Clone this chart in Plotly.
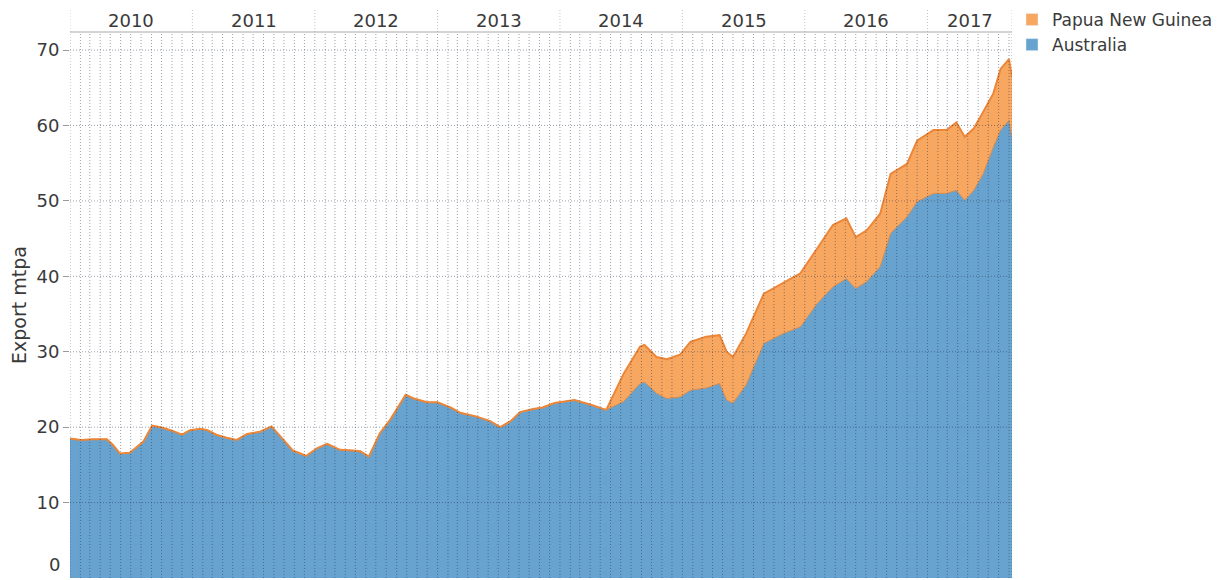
import plotly.graph_objects as go
import pandas as pd

# ---------------- data ----------------
dates = [
    "2010-01-01", "2010-02-02", "2010-03-11", "2010-04-21", "2010-05-10", "2010-05-30",
    "2010-06-28", "2010-07-19", "2010-08-08", "2010-09-03", "2010-09-28", "2010-10-28",
    "2010-12-01", "2010-12-25", "2011-01-25", "2011-02-15", "2011-03-13", "2011-04-13",
    "2011-05-13", "2011-06-13", "2011-07-22", "2011-08-25", "2011-09-19", "2011-10-28",
    "2011-12-07", "2012-01-07", "2012-02-07", "2012-03-16", "2012-04-25", "2012-05-16",
    "2012-06-10", "2012-07-13", "2012-08-13", "2012-09-28", "2012-10-22", "2012-12-01",
    "2013-01-01", "2013-02-10", "2013-03-10", "2013-04-28", "2013-06-07", "2013-07-07",
    "2013-08-07", "2013-09-04", "2013-10-13", "2013-11-10", "2013-12-16", "2014-02-13",
    "2014-04-01", "2014-05-19", "2014-07-10", "2014-08-28", "2014-09-10", "2014-10-16",
    "2014-11-16", "2014-12-25", "2015-01-25", "2015-03-13", "2015-04-22", "2015-05-13",
    "2015-06-01", "2015-07-10", "2015-09-01", "2015-10-28", "2015-12-19", "2016-02-07",
    "2016-03-25", "2016-05-04", "2016-06-01", "2016-07-04", "2016-08-13", "2016-09-13",
    "2016-11-01", "2016-12-01", "2017-01-19", "2017-02-27", "2017-03-28", "2017-04-22",
    "2017-05-19", "2017-06-16", "2017-07-16", "2017-08-07", "2017-09-01", "2017-09-10",
]
australia = [
    18.5, 18.3, 18.4, 18.4, 17.6, 16.5,
    16.6, 17.4, 18.1, 20.2, 20.0, 19.6,
    19.0, 19.6, 19.8, 19.6, 19.0, 18.6,
    18.3, 19.1, 19.4, 20.1, 18.8, 16.9,
    16.2, 17.2, 17.8, 17.0, 16.9, 16.8,
    16.1, 19.2, 21.0, 24.3, 23.8, 23.3,
    23.3, 22.6, 21.9, 21.4, 20.8, 20.0,
    20.8, 22.0, 22.4, 22.6, 23.2, 23.6,
    23.0, 22.3, 23.4, 25.8, 26.0, 24.5,
    23.8, 24.0, 24.9, 25.2, 25.8, 23.6,
    23.2, 25.6, 31.1, 32.4, 33.3, 36.4,
    38.6, 39.7, 38.4, 39.3, 41.3, 45.7,
    47.9, 49.9, 51.0, 51.0, 51.4, 50.1,
    51.4, 53.6, 57.1, 59.4, 60.7, 58.5,
]
png = [
    0, 0, 0, 0, 0, 0,
    0, 0, 0, 0, 0, 0,
    0, 0, 0, 0, 0, 0,
    0, 0, 0, 0, 0, 0,
    0, 0, 0, 0, 0, 0,
    0, 0, 0, 0, 0, 0,
    0, 0, 0, 0, 0, 0,
    0, 0, 0, 0, 0, 0,
    0, 0, 3.7, 4.9, 4.9, 4.8,
    5.2, 5.6, 6.4, 6.8, 6.4, 6.4,
    6.1, 6.8, 6.6, 6.7, 7.1, 7.3,
    8.2, 8.0, 6.8, 6.8, 7.0, 7.9,
    7.0, 8.1, 8.4, 8.4, 9.0, 8.4,
    8.2, 8.2, 7.1, 8.1, 8.1, 7.9,
]
years = [2010, 2011, 2012, 2013, 2014, 2015, 2016, 2017]
y_ticks = [0, 10, 20, 30, 40, 50, 60, 70]

# ---------------- styling ----------------
x_start, x_end = "2010-01-01", "2017-09-10"
y_top = 72.4
blue = "#67A3CE"
orange = "#F8A761"
font_family = "'DejaVu Sans', sans-serif"
text_color = "#3a3a3a"

fig = go.Figure()
fig.add_trace(go.Scatter(
    x=dates, y=australia, name="Australia", stackgroup="lng", mode="lines",
    line=dict(color="#D38A4E", width=1), fillcolor=blue, showlegend=False,
))
fig.add_trace(go.Scatter(
    x=dates, y=png, name="Papua New Guinea", stackgroup="lng", mode="lines",
    line=dict(color="#EC8638", width=2), fillcolor=orange, showlegend=False,
))

# dotted grid drawn above the areas (Tableau-like pane lines)
months = pd.date_range(x_start, x_end, freq="MS")
gx, gy = [], []
for d in months:
    s = d.strftime("%Y-%m-%d")
    gx += [s, s, None]
    gy += [0, y_top, None]
gx += [x_end, x_end, None]
gy += [0, y_top, None]
for v in y_ticks[1:]:
    gx += [x_start, x_end, None]
    gy += [v, v, None]
fig.add_trace(go.Scatter(
    x=gx, y=gy, mode="lines", hoverinfo="skip", showlegend=False,
    line=dict(color="rgba(30,45,70,0.45)", width=1, dash="1px,2px"),
))

# legend entries (square swatches)
fig.add_trace(go.Bar(x=[None], y=[None], name="Papua New Guinea", marker_color=orange))
fig.add_trace(go.Bar(x=[None], y=[None], name="Australia", marker_color=blue))

# year header
plot_h = 578 - 32
hdr = 24 / plot_h
shapes = []
annotations = []
xs = pd.Timestamp(x_start)
xe = pd.Timestamp(x_end)
for yr in years:
    a = max(pd.Timestamp(f"{yr}-01-01"), xs)
    b = min(pd.Timestamp(f"{yr + 1}-01-01"), xe)
    mid = a + (b - a) / 2
    annotations.append(dict(
        x=mid.strftime("%Y-%m-%d %H:%M"), xref="x", y=1, yref="paper", yanchor="bottom",
        yshift=-1, text=str(yr), showarrow=False, font=dict(size=18, color=text_color),
    ))
    shapes.append(dict(
        type="line", xref="x", yref="paper", x0=a.strftime("%Y-%m-%d"), x1=a.strftime("%Y-%m-%d"),
        y0=1, y1=1 + hdr, line=dict(color="#c4c4c4", width=1, dash="1px,2px"),
    ))
shapes.append(dict(
    type="line", xref="x", yref="paper", x0=x_end, x1=x_end,
    y0=1, y1=1 + hdr, line=dict(color="#c4c4c4", width=1, dash="1px,2px"),
))
shapes.append(dict(
    type="line", xref="x", yref="paper", x0=x_start, x1=x_end, y0=1, y1=1,
    line=dict(color="#a8a8a8", width=1),
))
annotations.append(dict(
    x=0, xref="paper", xanchor="right", xshift=-8, y=0, yref="y", yanchor="middle",
    yshift=14, text="0", showarrow=False, font=dict(size=18, color=text_color),
))

fig.update_layout(
    width=1231, height=580,
    margin=dict(l=70, r=219, t=32, b=2, autoexpand=False),
    plot_bgcolor="white", paper_bgcolor="white",
    font=dict(family=font_family, size=18, color=text_color),
    showlegend=True,
    xaxis=dict(type="date", range=[x_start, x_end], showgrid=False, showticklabels=False,
               ticks="", zeroline=False, showline=False, automargin=False),
    yaxis=dict(range=[0, y_top], tickvals=y_ticks[1:],
               ticktext=[str(v) for v in y_ticks[1:]],
               ticks="outside", ticklen=6, tickcolor="#999", showgrid=False,
               zeroline=False, showline=False, automargin=False,
               tickfont=dict(size=18, color=text_color),
               title=dict(text="Export mtpa", font=dict(size=19, color=text_color), standoff=4)),
    legend=dict(x=1.0, xanchor="left", y=1.055, yanchor="top", traceorder="normal",
                font=dict(size=17, color=text_color),
                tracegroupgap=0, itemclick=False, itemdoubleclick=False),
    shapes=shapes,
    annotations=annotations,
)

fig.write_html("out.html", config={"displayModeBar": False},
               post_script="document.body.style.margin='0px';")
